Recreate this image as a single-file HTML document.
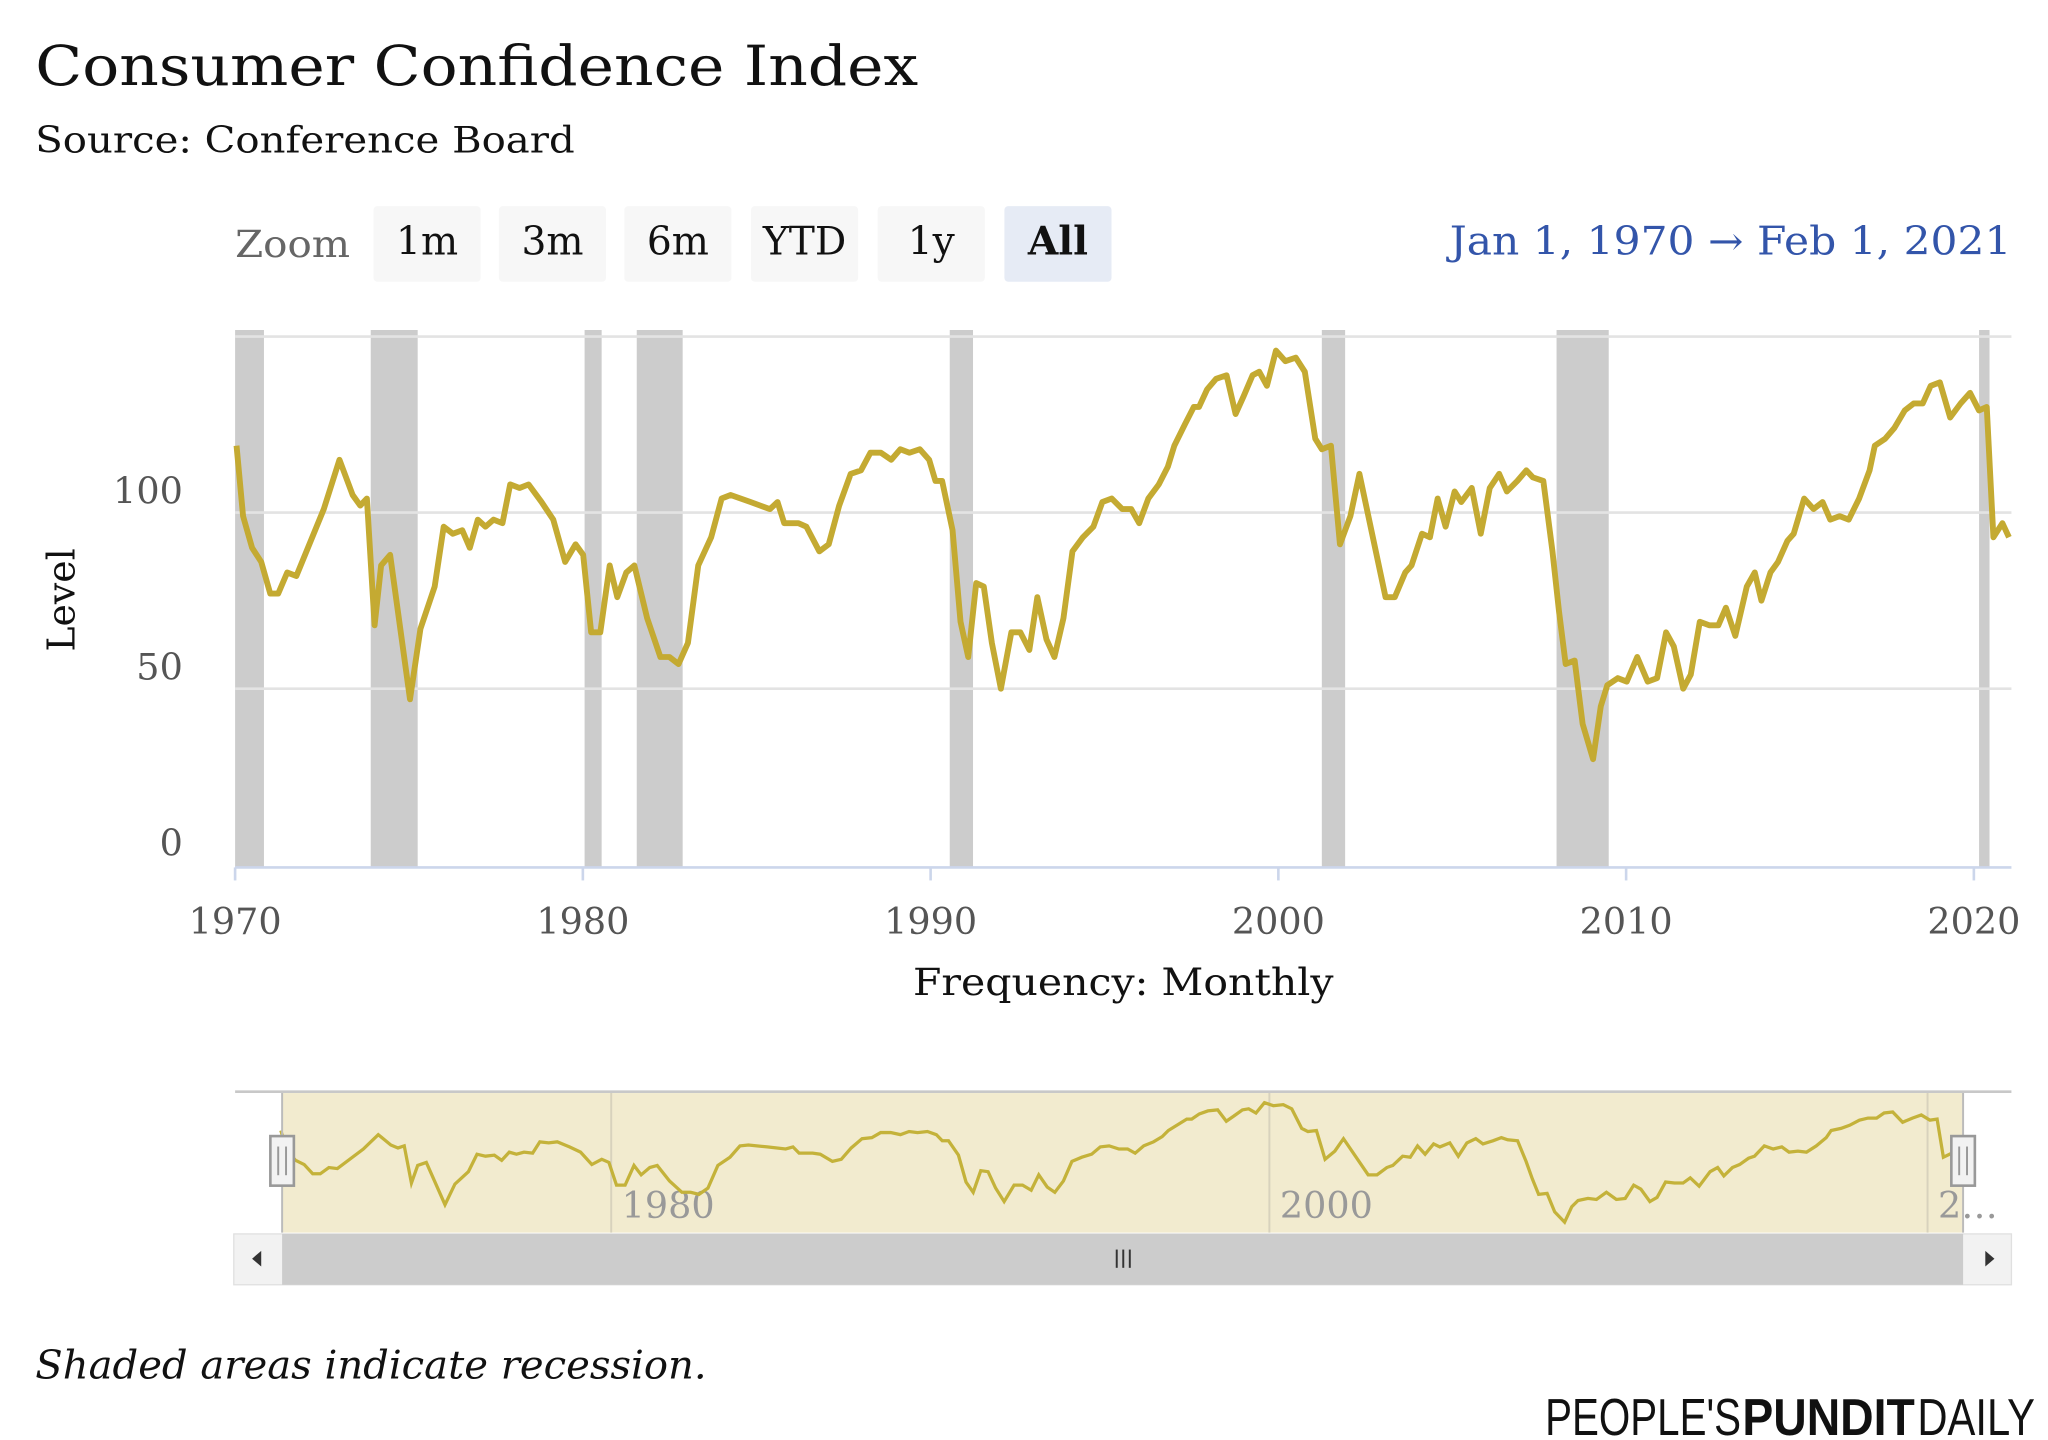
<!DOCTYPE html>
<html><head><meta charset="utf-8"><style>
html,body{margin:0;padding:0;background:#fff;width:2048px;height:1440px;overflow:hidden}
svg{display:block}
text{font-family:"DejaVu Serif","Liberation Serif",serif}
</style></head><body>
<svg id="chart" width="2048" height="1440" viewBox="0 0 1568 1104" preserveAspectRatio="none" xmlns="http://www.w3.org/2000/svg">
<text x="27" y="65" font-size="42" fill="#111" textLength="676" lengthAdjust="spacingAndGlyphs">Consumer Confidence Index</text>
<text x="27" y="117" font-size="28" fill="#111" textLength="413" lengthAdjust="spacingAndGlyphs">Source: Conference Board</text>
<text x="180" y="197" font-size="29" fill="#666" textLength="88" lengthAdjust="spacingAndGlyphs">Zoom</text>
<g id="zoomButtons"></g>
<text x="1540" y="195" font-size="30" fill="#3355aa" text-anchor="end" textLength="430" lengthAdjust="spacingAndGlyphs">Jan 1, 1970 → Feb 1, 2021</text>
<g id="plot"></g>
<text transform="translate(57,460) rotate(-90)" font-size="29" fill="#111" text-anchor="middle">Level</text>
<text x="699" y="763" font-size="29" fill="#111" textLength="322" lengthAdjust="spacingAndGlyphs">Frequency: Monthly</text>
<g id="nav"></g>
<text x="27" y="1057" font-size="30" font-style="italic" fill="#111" textLength="514" lengthAdjust="spacingAndGlyphs">Shaded areas indicate recession.</text>
<g>
<text x="1183" y="1100" font-size="40" fill="#111" style="font-family:'Liberation Sans',sans-serif" textLength="150" lengthAdjust="spacingAndGlyphs">PEOPLE'S</text>
<text x="1334" y="1100" font-size="40" font-weight="bold" fill="#111" style="font-family:'Liberation Sans',sans-serif" textLength="132" lengthAdjust="spacingAndGlyphs">PUNDIT</text>
<text x="1468" y="1100" font-size="40" fill="#111" style="font-family:'Liberation Sans',sans-serif" textLength="90" lengthAdjust="spacingAndGlyphs">DAILY</text>
</g>
</svg>
<script>
const years = [1970.04,1970.23,1970.49,1970.75,1971.01,1971.24,1971.50,1971.76,1972.55,1973.00,1973.38,1973.60,1973.79,1974.01,1974.20,1974.46,1975.03,1975.33,1975.74,1976.00,1976.26,1976.53,1976.75,1976.98,1977.20,1977.43,1977.69,1977.91,1978.18,1978.44,1978.81,1979.15,1979.49,1979.79,1980.01,1980.24,1980.50,1980.77,1980.99,1981.25,1981.48,1981.85,1982.23,1982.49,1982.75,1983.02,1983.32,1983.69,1983.99,1984.25,1984.82,1985.38,1985.60,1985.79,1986.02,1986.20,1986.43,1986.80,1987.07,1987.37,1987.70,1988.00,1988.27,1988.57,1988.87,1989.13,1989.39,1989.69,1989.96,1990.14,1990.33,1990.63,1990.86,1991.08,1991.31,1991.53,1991.76,1992.02,1992.32,1992.58,1992.84,1993.07,1993.33,1993.56,1993.82,1994.08,1994.38,1994.68,1994.94,1995.21,1995.51,1995.77,1996.00,1996.26,1996.56,1996.82,1997.01,1997.31,1997.57,1997.72,1997.95,1998.21,1998.51,1998.77,1999.00,1999.26,1999.45,1999.67,1999.93,2000.20,2000.50,2000.76,2001.06,2001.25,2001.51,2001.77,2002.07,2002.33,2003.08,2003.35,2003.65,2003.83,2004.13,2004.36,2004.58,2004.81,2005.07,2005.26,2005.56,2005.82,2006.08,2006.35,2006.57,2006.87,2007.13,2007.32,2007.62,2007.88,2008.07,2008.26,2008.52,2008.75,2009.05,2009.27,2009.46,2009.76,2010.02,2010.32,2010.62,2010.89,2011.15,2011.37,2011.64,2011.86,2012.12,2012.39,2012.65,2012.87,2013.14,2013.47,2013.70,2013.89,2014.15,2014.37,2014.64,2014.82,2015.12,2015.39,2015.65,2015.87,2016.14,2016.40,2016.70,2017.00,2017.15,2017.45,2017.71,2018.01,2018.27,2018.53,2018.76,2019.02,2019.32,2019.62,2019.89,2020.15,2020.37,2020.56,2020.82,2021.01];
const values = [119,99,90,86,77,77,83,82,101,115,105,102,104,68,85,88,47,67,79,96,94,95,90,98,96,98,97,108,107,108,103,98,86,91,88,66,66,85,76,83,85,70,59,59,57,63,85,93,104,105,103,101,103,97,97,97,96,89,91,102,111,112,117,117,115,118,117,118,115,109,109,95,69,59,80,79,63,50,66,66,61,76,64,59,70,89,93,96,103,104,101,101,97,104,108,113,119,125,130,130,135,138,139,128,133,139,140,136,146,143,144,140,121,118,119,91,99,111,76,76,83,85,94,93,104,96,106,103,107,94,107,111,106,109,112,110,109,89,72,57,58,40,30,45,51,53,52,59,52,53,66,62,50,54,69,68,68,73,65,79,83,75,83,86,92,94,104,101,103,98,99,98,104,112,119,121,124,129,131,131,136,137,127,131,134,129,130,93,97,93];
const recessionStarts = [1970.0,1973.9,1980.05,1981.55,1990.55,2001.25,2008.0,2020.15];
const recessionEnds = [1970.83,1975.25,1980.54,1982.87,1991.22,2001.92,2009.5,2020.45];
const yTicks = [0,50,100,150];
const yTickLabels = ['0','50','100',''];
const xTicks = [1970,1980,1990,2000,2010,2020];
const navTicks = [1980,2000,2020];
const navTickLabels = ['1980','2000','2…'];
const zoomLabels = ['1m','3m','6m','YTD','1y','All'];

const NS='http://www.w3.org/2000/svg';
function mk(tag,attrs,parent){const e=document.createElementNS(NS,tag);for(const k in attrs)e.setAttribute(k,attrs[k]);parent.appendChild(e);return e;}
const X0=180,X1=1540,T0=1970,T1=2021.08;
const xs=t=>X0+(t-T0)*(X1-X0)/(T1-T0);
const ys=v=>663-v*2.7;
const NX0=214,NX1=1501;
const nxs=t=>NX0+(t-T0)*(NX1-NX0)/(T1-T0);
const nys=v=>937-(v-30)*0.79;

const zb=document.getElementById('zoomButtons');
const bx=[286,382,478,575,672,769];
zoomLabels.forEach((l,i)=>{
  const g=mk('g',{},zb);
  
  
  mk('rect',{x:bx[i],y:158,width:82,height:58,rx:3,fill:l==='All'?'#e6ebf5':'#f7f7f7'},g);
  const t=mk('text',{x:bx[i]+41,y:195,'font-size':30,'text-anchor':'middle',fill:'#111','font-weight':l==='All'?'bold':'normal'},g);
  t.textContent=l;
});

const p=document.getElementById('plot');
recessionStarts.forEach((s,i)=>{
  const r=mk('rect',{x:xs(s),y:253,width:xs(recessionEnds[i])-xs(s),height:412,fill:'#cccccc'},p);
  
  
});
yTicks.forEach((v,i)=>{
  if(v>0){const l=mk('line',{x1:X0,x2:X1,y1:ys(v),y2:ys(v),stroke:'#e3e3e3','stroke-width':2},p);
  
  }
  if(yTickLabels[i]){const t=mk('text',{x:140,y:ys(v)-7,'font-size':28,fill:'#555','text-anchor':'end'},p);
  
  
  t.textContent=yTickLabels[i];}
});
const ax=mk('line',{x1:X0,x2:X1,y1:665,y2:665,stroke:'#ccd6eb','stroke-width':2},p);


xTicks.forEach(v=>{
  mk('line',{x1:xs(v),x2:xs(v),y1:665,y2:675,stroke:'#ccd6eb','stroke-width':2},p);
  const t=mk('text',{x:xs(v),y:716,'font-size':28,fill:'#555','text-anchor':'middle'},p);
  
  
  t.textContent=v;
});
const pts=years.map((y,i)=>xs(y).toFixed(1)+','+ys(values[i]).toFixed(1)).join(' ');
const line=mk('polyline',{points:pts,fill:'none',stroke:'#c4aa32','stroke-width':4.5,'stroke-linejoin':'round'},p);



const n=document.getElementById('nav');
mk('line',{x1:180,x2:1540,y1:837,y2:837,stroke:'#c8c8c8','stroke-width':2},n);
const mask=mk('rect',{x:216,y:838,width:1287,height:107,fill:'#f2ebcf'},n);


navTicks.forEach((v,i)=>{
  mk('line',{x1:nxs(v)+2,x2:nxs(v)+2,y1:838,y2:945,stroke:'#d8d2bd','stroke-width':1.5},n);
  const t=mk('text',{x:nxs(v)+10,y:934,'font-size':28,fill:'#999'},n);
  
  
  t.textContent=navTickLabels[i];
});
const npts=years.map((y,i)=>nxs(y).toFixed(1)+','+nys(values[i]).toFixed(1)).join(' ');
const nl=mk('polyline',{points:npts,fill:'none',stroke:'#c4b23a','stroke-width':2.5},n);


[216,1503].forEach((hx,i)=>{
  const g=mk('g',{},n);
  
  
  mk('line',{x1:hx,x2:hx,y1:838,y2:945,stroke:'#bbb','stroke-width':1.5},g);
  mk('rect',{x:hx-9,y:871,width:18,height:38,fill:'#f2f2f2',stroke:'#999','stroke-width':2},g);
  mk('line',{x1:hx-3,x2:hx-3,y1:879,y2:901,stroke:'#999','stroke-width':1.5},g);
  mk('line',{x1:hx+3,x2:hx+3,y1:879,y2:901,stroke:'#999','stroke-width':1.5},g);
});
const sb=mk('rect',{x:179,y:946,width:1361,height:39,fill:'#f2f2f2',stroke:'#e0e0e0','stroke-width':1},n);


const th=mk('rect',{x:216,y:946,width:1287,height:39,fill:'#cccccc'},n);


[855,860,865].forEach(x=>mk('line',{x1:x,x2:x,y1:958,y2:972,stroke:'#333','stroke-width':1.5},n));
const la=mk('path',{d:'M193,965 L200,959 L200,971 Z',fill:'#333'},n);


const ra=mk('path',{d:'M1527,965 L1520,959 L1520,971 Z',fill:'#333'},n);


</script>
</body></html>
